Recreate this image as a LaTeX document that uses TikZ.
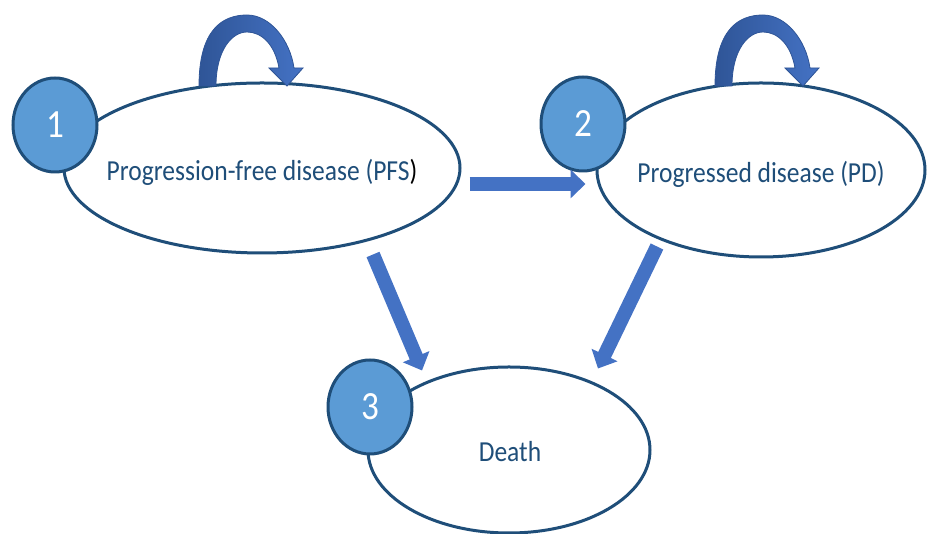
\documentclass[tikz,border=0pt]{standalone}
\usepackage{fontspec}
\setmainfont{Carlito}
\usepackage{graphicx}
\usetikzlibrary{calc, arrows.meta, shapes.geometric}

\definecolor{navy}{HTML}{1F4E79}
\definecolor{stateblue}{HTML}{5B9BD5}
\definecolor{arrowblue}{HTML}{4472C4}
\definecolor{arrowdark}{HTML}{2F5597}

% the source picture is squeezed sideways a little
\newcommand{\narrow}[1]{\scalebox{0.88}[1]{#1}}

\begin{document}
\begin{tikzpicture}[
          x=1pt,
          y=1pt,
          st/.style={draw=navy, line width=3pt, ellipse, fill=white, inner sep=0pt},
          lbl/.style={font=\fontsize{29}{34}\selectfont, text=navy},
          num/.style={draw=navy, line width=3pt, fill=stateblue, ellipse, inner sep=0pt,
                      minimum width=84pt, minimum height=94pt, text=white,
                      font=\fontsize{40}{44}\selectfont},
          barrow/.style={arrowblue, line width=14pt, -{Triangle[width=28pt, length=15pt]}},
          loopy/.style={draw=arrowdark, line width=0.8pt, left color=arrowdark, right color=arrowblue},
        ]
      \useasboundingbox (0, 0) rectangle (927, 534);

      % states
      \node[st, minimum width=396pt, minimum height=170pt] (pfs) at (262, 366) {};
      \node[st, minimum width=328pt, minimum height=174pt] (pd) at (761, 364) {};
      \node[st, minimum width=282pt, minimum height=166pt] (death) at (509, 84) {};
      \node[lbl] (pfslbl) at ($(pfs.center)+(0, -4)$) {\narrow{Progression-free disease (PFS\textcolor{black}{)}}};
      \node[lbl] (pdlbl) at ($(pd.center)+(0, -4)$) {\narrow{Progressed disease (PD)}};
      \node[lbl] (deathlbl) at ($(death.center)+(1, -2)$) {\narrow{Death}};

      % numbers
      \node[num] (n1) at (55, 409) {\narrow{1}};
      \node[num] (n2) at (583, 410) {\narrow{2}};
      \node[num] (n3) at (370, 127) {\narrow{3}};

      % transitions
      \draw[barrow] ($(pfs.east)+(8, -16)$) -- ($(pd.west)+(-10, -14)$);
      \draw[barrow] ($(pfs.south)+(111, 0)$) -- ($(death.north)+(-87, -5)$);
      \draw[barrow] ($(pd.south)+(-104, 12)$) -- ($(death.north)+(89, -3)$);

      % staying in the same state
      \foreach \sx in {0, 516} {
        \path[loopy, xshift=\sx] (199, 448) .. controls (199, 504) and (222, 519) .. (247, 519)
          .. controls (270, 519) and (290, 494) .. (294, 466) -- (303, 466) -- (287, 448)
          -- (269, 466) -- (279, 466) .. controls (275, 489) and (262, 502) .. (247, 502)
          .. controls (232, 502) and (216, 484) .. (216, 448) -- cycle;
      }
    \end{tikzpicture}
\end{document}
